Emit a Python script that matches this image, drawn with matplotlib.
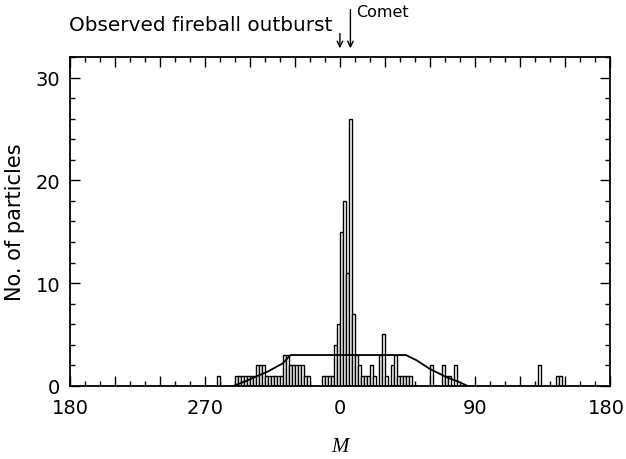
import numpy as np
import matplotlib.pyplot as plt
import matplotlib.transforms as mtransforms
from matplotlib.ticker import MultipleLocator, FixedLocator, FixedFormatter

# histogram of mean anomaly M (2 degree bins, left edges)
bin_left = [-82,
            -70, -68, -66, -64, -62, -60, -58,
            -56, -54, -52,
            -50, -48, -46, -44, -42, -40,
            -38, -36,
            -34, -32, -30, -28, -26,
            -24, -22,
            -12, -10, -8, -6,
            -4, -2, 0, 2, 4, 6, 8, 10, 12, 14, 16, 18, 20, 22,
            26, 28, 30,
            34, 36,
            38, 40, 42, 44, 46,
            60,
            68, 70, 72,
            76,
            132,
            144, 146]
counts = [1,
          1, 1, 1, 1, 1, 1, 1,
          2, 2, 2,
          1, 1, 1, 1, 1, 1,
          3, 3,
          2, 2, 2, 2, 2,
          1, 1,
          1, 1, 1, 1,
          4, 6, 15, 18, 11, 26, 7, 3, 2, 1, 1, 1, 2, 1,
          3, 5, 1,
          2, 3,
          1, 1, 1, 1, 1,
          2,
          2, 1, 1,
          2,
          2,
          1, 1]

# model curve
curve_m = [-71, -63, -56, -48, -38, -33, 44, 51, 60, 71, 80, 85]
curve_n = [0.0, 0.45, 0.9, 1.4, 2.2, 3.0, 3.0, 2.5, 1.65, 0.85, 0.35, 0.0]

fireball_m = 0
comet_m = 7

fig = plt.figure(figsize=(6.26, 4.6), dpi=100)
ax = fig.add_axes([0.112, 0.159, 0.862, 0.715])

ax.bar(bin_left, counts, width=2, align='edge', facecolor='white',
       edgecolor='black', linewidth=1.0, zorder=2)
ax.plot(curve_m, curve_n, color='black', linewidth=1.3, zorder=3)

ax.set_xlim(-180, 180)
ax.set_ylim(0, 32)

major = list(range(-180, 181, 30))
names = {-180: '180', -90: '270', 0: '0', 90: '90', 180: '180'}
ax.xaxis.set_major_locator(FixedLocator(major))
ax.xaxis.set_major_formatter(FixedFormatter([names.get(v, '') for v in major]))
ax.xaxis.set_minor_locator(MultipleLocator(10))
ax.yaxis.set_major_locator(MultipleLocator(10))
ax.yaxis.set_minor_locator(MultipleLocator(2))

ax.tick_params(which='both', direction='in', top=True, right=True, width=1.0)
ax.tick_params(which='major', length=7, labelsize=14)
ax.tick_params(axis='x', which='major', pad=9)
ax.tick_params(axis='y', which='major', pad=7)
ax.tick_params(which='minor', length=3.5)
for s in ax.spines.values():
    s.set_linewidth(1.3)

# keep the last "180" inside the canvas
last = ax.get_xticklabels()[-1]
last.set_horizontalalignment('right')
last.set_transform(last.get_transform() +
                   mtransforms.ScaledTranslation(0.15, 0, fig.dpi_scale_trans))

ax.set_ylabel('No. of particles', fontsize=15, labelpad=8)
ax.set_xlabel('M', fontsize=15, family='Liberation Serif', style='italic',
              labelpad=14)

trans = ax.get_xaxis_transform()
ax.annotate('', xy=(fireball_m, 1.018), xytext=(fireball_m, 1.08),
            xycoords=trans, textcoords=trans,
            arrowprops=dict(arrowstyle='->', color='black', lw=1.0))
ax.annotate('', xy=(comet_m, 1.018), xytext=(comet_m, 1.152),
            xycoords=trans, textcoords=trans,
            arrowprops=dict(arrowstyle='->', color='black', lw=1.0))
ax.text(-5, 1.082, 'Observed fireball outburst', transform=trans,
        ha='right', va='baseline', fontsize=14.4)
ax.text(11, 1.125, 'Comet', transform=trans, ha='left', va='baseline',
        fontsize=11.5)

fig.savefig('out.png', dpi=100)
